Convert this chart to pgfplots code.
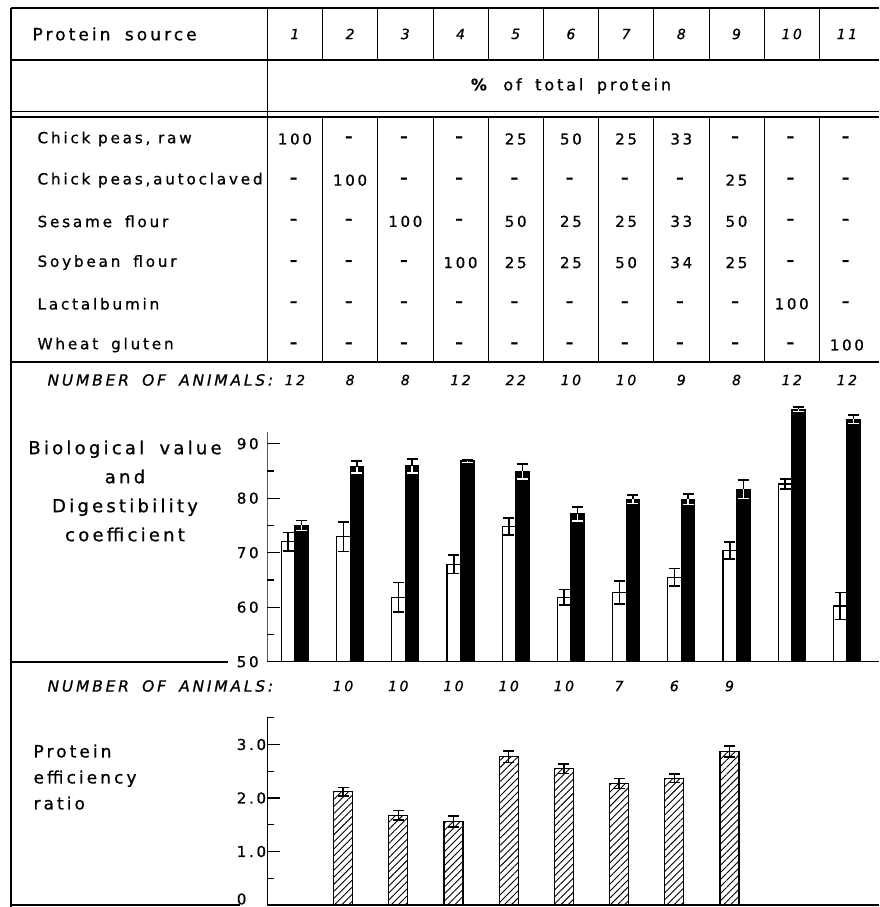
\documentclass[border=0pt]{standalone}
\usepackage{fontspec}
\setmainfont{DejaVu Sans}[LetterSpace=18,FakeBold=0.8]
\usepackage{pgfplots}
\pgfplotsset{compat=1.18}
\usepackage{pgfplotstable}
\usetikzlibrary{patterns.meta}
\newcommand\dd{\textbf{–}}
\newcommand\wsp{\ \hspace{0.35em}}
\pgfplotstableread{
x w we b be
1 72.0 1.7 75.0 0.9
2 72.9 2.7 85.7 1.1
3 61.8 2.7 85.9 1.3
4 67.9 1.7 86.8 0.3
5 74.8 1.6 84.9 1.4
6 61.8 1.4 77.1 1.3
7 62.7 2.1 79.8 0.8
8 65.5 1.6 79.8 1.0
9 70.4 1.6 81.6 1.7
10 82.6 0.9 96.3 0.4
11 60.2 2.5 94.5 0.8
}\bv
\pgfplotstableread{
x p pe
2 2.12 0.08
3 1.68 0.09
4 1.56 0.10
5 2.77 0.11
6 2.55 0.09
7 2.27 0.09
8 2.37 0.08
9 2.87 0.10
}\per
\pgfplotsset{
  ebar/.style 2 args={
    /pgfplots/error bars/y dir=#2,
    /pgfplots/error bars/y explicit,
    /pgfplots/error bars/error bar style={line width=1.5pt,draw=#1},
    /pgfplots/error bars/error mark options={rotate=90,line width=1.5pt,mark size=5.5pt,draw=#1}},
}
\begin{document}
\begin{tikzpicture}
\clip (0pt,0pt) rectangle (879pt,907pt);
\begin{scope}[shift={(0pt,907pt)},x=1pt,y=-1pt]
% table lines
\draw[line width=1.5pt] (11,8) -- (879,8);
\draw[line width=2pt] (11,60) -- (879,60);
\draw[line width=1pt] (11,112) -- (879,112);
\draw[line width=2.2pt] (11,117) -- (879,117);
\draw[line width=2.2pt] (11,362) -- (879,362);
\draw[line width=1.2pt] (11,8) -- (11,907);
\draw[line width=1pt] (267.3,8) -- (267.3,362);
\foreach \i in {1,...,10} {
  \draw[line width=0.8pt] ({267.3+55.2*\i},8) -- ({267.3+55.2*\i},60);
  \draw[line width=0.8pt] ({267.3+55.2*\i},117) -- ({267.3+55.2*\i},362);
}
% header
\node[anchor=west,font=\fontsize{17}{17}\selectfont] at (29,34) {Protein\wsp source};
\foreach \v [count=\i] in {1,2,3,4,5,6,7,8,9,10,11}
  \node[font=\fontsize{14}{14}\itshape\selectfont] at ({267.3+55.2*(\i-0.5)},34) {\v};
\node[font=\fontsize{16}{16}\selectfont] at (571,86) {\textbf{\%}\wsp of\wsp total\wsp protein};
% rows
\begin{scope}[every node/.style={font=\fontsize{15.3}{16}\selectfont}]
\node[anchor=west] at (34,139) {Chick peas, raw};
\node[anchor=west] at (34,180.2) {Chick peas,autoclaved};
\node[anchor=west] at (34,221.4) {Sesame\wsp flour};
\node[anchor=west] at (34,262.6) {Soybean\wsp flour};
\node[anchor=west] at (34,303.8) {Lactalbumin};
\node[anchor=west] at (34,345) {Wheat\wsp gluten};
\end{scope}
\begin{scope}[every node/.style={font=\fontsize{15}{15}\selectfont}]
\foreach \v [count=\i] in {100,\dd,\dd,\dd,25,50,25,33,\dd,\dd,\dd}
  \node at ({267.3+55.2*(\i-0.5)},139) {\v};
\foreach \v [count=\i] in {\dd,100,\dd,\dd,\dd,\dd,\dd,\dd,25,\dd,\dd}
  \node at ({267.3+55.2*(\i-0.5)},180.2) {\v};
\foreach \v [count=\i] in {\dd,\dd,100,\dd,50,25,25,33,50,\dd,\dd}
  \node at ({267.3+55.2*(\i-0.5)},221.4) {\v};
\foreach \v [count=\i] in {\dd,\dd,\dd,100,25,25,50,34,25,\dd,\dd}
  \node at ({267.3+55.2*(\i-0.5)},262.6) {\v};
\foreach \v [count=\i] in {\dd,\dd,\dd,\dd,\dd,\dd,\dd,\dd,\dd,100,\dd}
  \node at ({267.3+55.2*(\i-0.5)},303.8) {\v};
\foreach \v [count=\i] in {\dd,\dd,\dd,\dd,\dd,\dd,\dd,\dd,\dd,\dd,100}
  \node at ({267.3+55.2*(\i-0.5)},345) {\v};
\end{scope}
% number of animals
\node[anchor=west,font=\fontsize{15.5}{15}\itshape\selectfont] at (44,380) {NUMBER\wsp OF\wsp ANIMALS:};
\foreach \v [count=\i] in {12,8,8,12,22,10,10,9,8,12,12}
  \node[font=\fontsize{14}{14}\itshape\selectfont] at ({267.3+55.2*(\i-0.5)},380) {\v};
\node[anchor=west,font=\fontsize{15.5}{15}\itshape\selectfont] at (44,686) {NUMBER\wsp OF\wsp ANIMALS:};
\foreach \v [count=\i] in {10,10,10,10,10,7,6,9}
  \node[font=\fontsize{14}{14}\itshape\selectfont] at ({267.3+55.2*(\i+0.5)-7},686) {\v};
% side labels
\node[align=center,font=\fontsize{18}{29}\selectfont] at (125,491) {Biological\wsp value\\and\\Digestibility\\coefficient};
\node[align=left,anchor=north west,font=\fontsize{17}{26}\selectfont] at (30,741) {Protein\\efficiency\\ratio};
\draw[line width=2pt] (11,661.7) -- (228,661.7);
\draw[line width=2pt] (11,905) -- (240,905);
\end{scope}

% Biological value / digestibility
\begin{axis}[at={(267.3pt,245.3pt)},anchor=south west,scale only axis,
  width=611.7pt,height=256.2pt,xmin=0.5,xmax=11.58,ymin=50,ymax=97,
  axis x line=bottom,axis y line=left,axis line style={-,line width=1.5pt},
  y axis line style={draw=none},
  xtick=\empty,ytick={50,60,70,80,90},yticklabels={50,60,70,80,90},
  minor ytick={55,65,75,85},tick align=inside,
  major tick length=13pt,minor tick length=7pt,
  tick style={line width=1.2pt,black},
  /pgf/number format/assume math mode=true,
  yticklabel style={anchor=west,xshift=-34pt,font=\fontsize{15}{15}\selectfont}]
\draw[line width=1.2pt] (axis cs:0.5,50) -- (axis cs:0.5,92.2);
\addplot[ybar,bar width=13.5pt,bar shift=0pt,fill=white,draw=black,line width=1.2pt,
  ebar={black}{both}]
  table[x expr=\thisrow{x}-0.1223,y=w,y error=we]{\bv};
\addplot[ybar,bar width=13.5pt,bar shift=0pt,fill=black,draw=black,line width=1.2pt,
  ebar={black}{plus}]
  table[x expr=\thisrow{x}+0.1223,y=b,y error=be]{\bv};
\addplot[ybar,bar width=13.5pt,bar shift=0pt,fill=none,draw=none,
  ebar={white}{minus}]
  table[x expr=\thisrow{x}+0.1223,y=b,y error=be]{\bv};
\end{axis}

% Protein efficiency ratio
\begin{axis}[at={(267.3pt,2pt)},anchor=south west,scale only axis,
  width=611.7pt,height=187.25pt,xmin=0.5,xmax=11.58,ymin=0,ymax=3.5,
  axis x line=bottom,axis y line=left,axis line style={-,line width=1.5pt},
  y axis line style={line width=1.2pt},
  xtick=\empty,ytick={1,2,3},yticklabels={1.0,2.0,3.0},
  extra y ticks={0},extra y tick labels={0},
  extra y tick style={yticklabel style={yshift=6pt},major tick length=0pt},
  minor ytick={0.5,1.5,2.5,3.5},tick align=inside,
  major tick length=13pt,minor tick length=7pt,
  tick style={line width=1.2pt,black},
  /pgf/number format/assume math mode=true,
  yticklabel style={anchor=west,xshift=-34pt,font=\fontsize{15}{15}\selectfont}]
\addplot[ybar,bar width=19pt,bar shift=0pt,draw=black,line width=1.2pt,
  pattern={Lines[angle=45,distance=5pt,line width=0.9pt]},
  ebar={black}{both}]
  table[x expr=\thisrow{x}-0.127,y=p,y error=pe]{\per};
\end{axis}
\end{tikzpicture}
\end{document}
